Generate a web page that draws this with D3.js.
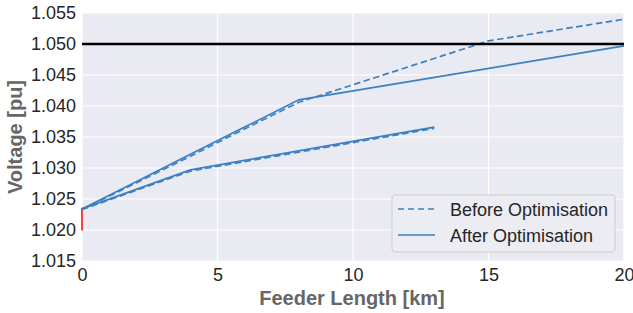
<!DOCTYPE html>
<html><head><meta charset="utf-8">
<script src="https://cdn.jsdelivr.net/npm/d3@7"></script>
<style>body{margin:0;background:#fff}svg{display:block}text{font-family:"Liberation Sans",Arial,sans-serif}</style>
</head><body>
<svg id="c" width="633" height="313"></svg>
<script>
const xTicks = [0, 5, 10, 15, 20];
const yTicks = [1.015, 1.020, 1.025, 1.030, 1.035, 1.040, 1.045, 1.050, 1.055];
const limitV = 1.05;
const redX = [0, 0];
const redV = [1.0199, 1.0236];
// Feeder A (long)
const aBeforeKm = [0, 2, 4, 6, 8, 15, 20];
const aBeforeV  = [1.0233, 1.0276, 1.0319, 1.0363, 1.0406, 1.0505, 1.0540];
const aAfterKm  = [0, 2, 4, 6, 8, 20];
const aAfterV   = [1.0234, 1.0278, 1.0322, 1.0366, 1.0410, 1.0497];
// Feeder B (short)
const bBeforeKm = [0, 4, 13];
const bBeforeV  = [1.0233, 1.0295, 1.0364];
const bAfterKm  = [0, 4, 13];
const bAfterV   = [1.0234, 1.0297, 1.0366];
const legendLabels = ["Before Optimisation", "After Optimisation"];

const svg = d3.select("#c");
const L = 82, R = 624, T = 13, B = 261;
const x = d3.scaleLinear().domain([0, 20]).range([L, R]);
const y = d3.scaleLinear().domain([1.015, 1.055]).range([B, T]);
const blue = "#3a80c2";

svg.append("rect").attr("x", L).attr("y", T).attr("width", R - L).attr("height", B - T).attr("fill", "#eaeaf2");
const g = svg.append("g");
g.selectAll(".gx").data(xTicks).enter().append("line")
  .attr("x1", d => x(d)).attr("x2", d => x(d)).attr("y1", T).attr("y2", B)
  .attr("stroke", "#fff").attr("stroke-width", 1.2);
g.selectAll(".gy").data(yTicks).enter().append("line")
  .attr("y1", d => y(d)).attr("y2", d => y(d)).attr("x1", L).attr("x2", R)
  .attr("stroke", "#fff").attr("stroke-width", 1.2);

const xAxis = d3.axisBottom(x).tickValues(xTicks).tickSize(0).tickPadding(7).tickFormat(d3.format("d"));
const yAxis = d3.axisLeft(y).tickValues(yTicks).tickSize(0).tickPadding(6).tickFormat(d3.format(".3f"));
const ax = svg.append("g").attr("transform", `translate(0,${B})`).call(xAxis);
const ay = svg.append("g").attr("transform", `translate(${L},0)`).call(yAxis);
[ax, ay].forEach(a => {
  a.select(".domain").remove();
  a.selectAll("text").attr("font-size", 18).attr("fill", "#262626").attr("font-family", "Liberation Sans, Arial, sans-serif");
});

const line = d3.line().x(d => x(d[0])).y(d => y(d[1]));
const zip = (a, b) => a.map((v, i) => [v, b[i]]);

// red segment
svg.append("path").attr("d", line(zip(redX, redV))).attr("stroke", "#ff0000").attr("stroke-width", 1.5).attr("fill", "none");

function draw(km, v, dash) {
  svg.append("path").attr("d", line(zip(km, v))).attr("fill", "none")
    .attr("stroke", blue).attr("stroke-width", 1.7)
    .attr("stroke-dasharray", dash ? "6.5,3.5" : null);
}
draw(aBeforeKm, aBeforeV, true);
draw(bBeforeKm, bBeforeV, true);
draw(aAfterKm, aAfterV, false);
draw(bAfterKm, bAfterV, false);

// limit line
svg.append("line").attr("x1", L).attr("x2", R).attr("y1", y(limitV)).attr("y2", y(limitV))
  .attr("stroke", "#000").attr("stroke-width", 2.5);

// legend
const lg = svg.append("g");
lg.append("rect").attr("x", 392).attr("y", 195).attr("width", 223).attr("height", 57).attr("rx", 3)
  .attr("fill", "#ececf3").attr("stroke", "#cccccc").attr("stroke-width", 1);
legendLabels.forEach((t, i) => {
  const yy = 209 + i * 26;
  lg.append("line").attr("x1", 398).attr("x2", 435).attr("y1", yy).attr("y2", yy)
    .attr("stroke", blue).attr("stroke-width", 1.7).attr("stroke-dasharray", i === 0 ? "6,4" : null);
  lg.append("text").attr("x", 450).attr("y", yy + 6.5).attr("font-size", 18).attr("fill", "#262626").text(t);
});

// axis labels
svg.append("text").attr("x", 352).attr("y", 305).attr("text-anchor", "middle")
  .attr("font-size", 20).attr("font-weight", "bold").attr("fill", "#666666").text("Feeder Length [km]");
svg.append("text").attr("transform", `translate(22,137) rotate(-90)`).attr("text-anchor", "middle")
  .attr("font-size", 20).attr("font-weight", "bold").attr("fill", "#666666").text("Voltage [pu]");
</script>
</body></html>
